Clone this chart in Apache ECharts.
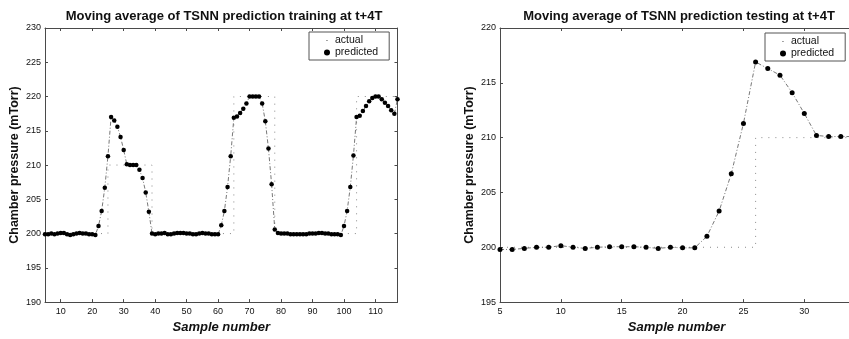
<!DOCTYPE html>
<html>
<head>
<meta charset="utf-8">
<script src="https://cdn.jsdelivr.net/npm/echarts@6/dist/echarts.min.js"></script>
<style>
  html, body { margin: 0; background: #fff; overflow: hidden; }
  /* a little wider than the window: the right plot runs off the edge in the original */
  #chart { width: 858px; height: 339px; }
</style>
</head>
<body>
<div id="chart"></div>
<script>
// training run, one value per sample starting at sample 5
const trainStart = 5;
const trainPredicted = [
  199.9, 199.9, 200.0, 199.9, 200.0, 200.1, 200.1, 199.9, 199.8, 199.9, 200.0, 200.1, 200.0, 200.0, 199.9, 199.9, 199.8,
  201.1, 203.3, 206.7, 211.3, 217.0, 216.5, 215.6, 214.1, 212.2, 210.1, 210.0, 210.0, 210.0, 209.3, 208.1, 206.0, 203.2, 200.0,
  199.9, 200.0, 200.0, 200.1, 199.9, 199.9, 200.0, 200.1, 200.1, 200.1, 200.0, 200.0, 199.9, 199.9, 200.0, 200.1, 200.0, 200.0, 199.9, 199.9, 199.9,
  201.2, 203.3, 206.8, 211.3, 216.9, 217.1, 217.6, 218.2, 219.0, 220.0, 220.0, 220.0, 220.0, 219.0, 216.4, 212.4, 207.2, 200.6,
  200.1, 200.0, 200.0, 200.0, 199.9, 199.9, 199.9, 199.9, 199.9, 199.9, 200.0, 200.0, 200.0, 200.1, 200.1, 200.0, 200.0, 199.9, 199.9, 199.9, 199.8,
  201.1, 203.3, 206.8, 211.4, 217.0, 217.2, 217.9, 218.6, 219.3, 219.8, 220.0, 220.0, 219.6, 219.1, 218.6, 218.0, 217.5, 219.6
];
const trainActualX = [5, 25, 25, 39, 39, 65, 65, 78, 78, 104, 104, 117];
const trainActualY = [200, 200, 210, 210, 200, 200, 220, 220, 200, 200, 220, 220];
const trainXRange = [5, 117];
const trainYRange = [190, 230];

// testing run
const testStart = 5;
const testPredicted = [
  199.8, 199.8, 199.9, 200.0, 200.0, 200.15, 200.0, 199.9, 200.0, 200.05, 200.05, 200.05, 200.0, 199.9, 200.0, 199.95, 199.95,
  201.0, 203.3, 206.7, 211.3, 216.9, 216.3, 215.7, 214.1, 212.2, 210.2, 210.1, 210.1, 210.1
];
const testActualX = [5, 26, 26, 34];
const testActualY = [200, 200, 210, 210];
const testXRange = [5, 34];
const testYRange = [195, 220];

const titles = [
  'Moving average of TSNN prediction training at t+4T',
  'Moving average of TSNN prediction testing at t+4T'
];

const font = 'Liberation Sans, Arial, Helvetica, sans-serif';
const frame = '#4a4a4a';

function pairs(xs, ys) {
  return ys.map((y, i) => [xs[i], y]);
}
function indexed(start, ys) {
  return ys.map((y, i) => [start + i, y]);
}

function xAxes(gridIndex, range, split, step) {
  const base = {
    type: 'value', gridIndex, min: range[0], max: range[1], splitNumber: split,
    axisLine: { onZero: false, lineStyle: { color: frame, width: 1 } },
    axisTick: { inside: true, length: 3, lineStyle: { color: frame } },
    splitLine: { show: false }
  };
  return [
    Object.assign({}, base, {
      name: 'Sample number', nameLocation: 'middle', nameGap: 17,
      nameTextStyle: { fontFamily: font, fontSize: 13, fontWeight: 'bold', fontStyle: 'italic', color: '#111' },
      axisLabel: {
        fontFamily: font, fontSize: 9, color: '#111', margin: 5,
        formatter: v => (v % step === 0 ? String(v) : '')
      }
    }),
    Object.assign({}, base, { position: 'top', axisLabel: { show: false } })
  ];
}

function yAxes(gridIndex, range) {
  const base = {
    type: 'value', gridIndex, min: range[0], max: range[1], interval: 5,
    axisLine: { show: true, onZero: false, lineStyle: { color: frame, width: 1 } },
    axisTick: { show: true, inside: true, length: 3, lineStyle: { color: frame } },
    splitLine: { show: false }
  };
  return [
    Object.assign({}, base, {
      name: 'Chamber pressure (mTorr)', nameLocation: 'middle', nameGap: 24,
      nameTextStyle: { fontFamily: font, fontSize: 12.5, fontWeight: 'bold', color: '#111' },
      axisLabel: { fontFamily: font, fontSize: 9, color: '#111', margin: 4 }
    }),
    Object.assign({}, base, { position: 'right', axisLabel: { show: false } })
  ];
}

const smallDot = 'path://M0,0h0.1v0.1h-0.1zM10,10h0.1v0.1h-0.1zM4,4h2v2h-2z';

function legend(left, top) {
  return {
    left, top, orient: 'vertical', align: 'left',
    borderColor: '#555', borderWidth: 1, padding: [3, 11, 2, 15],
    itemWidth: 6, itemHeight: 6, itemGap: 1, itemTextGap: 10,
    textStyle: { fontFamily: font, fontSize: 10.5, color: '#111' },
    data: [
      { name: 'actual', icon: smallDot, itemStyle: { color: '#666' } },
      { name: 'predicted', icon: 'circle', itemStyle: { color: '#000' } }
    ]
  };
}

function actualSeries(xi, yi, data) {
  return {
    name: 'actual', type: 'line', xAxisIndex: xi, yAxisIndex: yi, data,
    showSymbol: false, symbol: 'none', color: '#666',
    lineStyle: { color: '#8a8a8a', width: 1, type: [1, 6] }, z: 1, silent: true
  };
}
function predictedSeries(xi, yi, data, size) {
  return {
    name: 'predicted', type: 'line', xAxisIndex: xi, yAxisIndex: yi, data,
    symbol: 'circle', symbolSize: size, showAllSymbol: true, color: '#000',
    itemStyle: { color: '#000' },
    lineStyle: { color: '#555', width: 0.8, type: [4, 2, 1, 2] }, z: 2
  };
}

const chart = echarts.init(document.getElementById('chart'), null, { renderer: 'canvas' });

chart.setOption({
  backgroundColor: '#fff',
  animation: false,
  title: [
    { text: titles[0], left: 219, top: 5, textAlign: 'center',
      textStyle: { fontFamily: font, fontSize: 13, fontWeight: 'bold', color: '#111' } },
    { text: titles[1], left: 674, top: 5, textAlign: 'center',
      textStyle: { fontFamily: font, fontSize: 13, fontWeight: 'bold', color: '#111' } }
  ],
  legend: [legend(309, 32), legend(765, 33)],
  grid: [
    { left: 45, top: 28, width: 352.5, height: 276 },
    { left: 500, top: 28, width: 353, height: 277 }
  ],
  xAxis: xAxes(0, trainXRange, 11, 10).concat(xAxes(1, testXRange, 6, 5)),
  yAxis: yAxes(0, trainYRange).concat(yAxes(1, testYRange)),
  series: [
    actualSeries(0, 0, pairs(trainActualX, trainActualY)),
    predictedSeries(0, 0, indexed(trainStart, trainPredicted), 4.5),
    actualSeries(2, 2, pairs(testActualX, testActualY)),
    predictedSeries(2, 2, indexed(testStart, testPredicted), 5)
  ]
});
</script>
</body>
</html>
